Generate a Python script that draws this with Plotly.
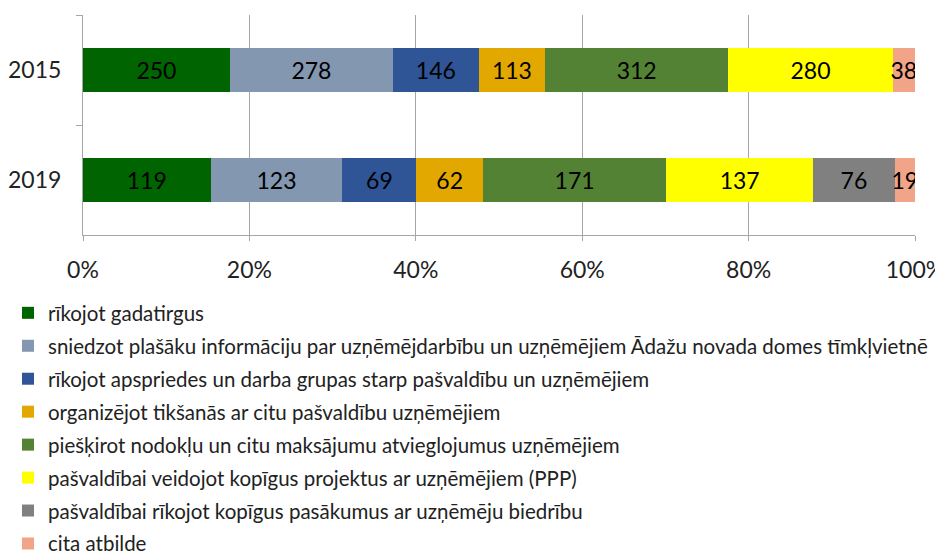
import plotly.graph_objects as go

years = ["2015", "2019"]
series_names = [
    "rīkojot gadatirgus",
    "sniedzot plašāku informāciju par uzņēmējdarbību un uzņēmējiem Ādažu novada domes tīmkļvietnē",
    "rīkojot apspriedes un darba grupas starp pašvaldību un uzņēmējiem",
    "organizējot tikšanās ar citu pašvaldību uzņēmējiem",
    "piešķirot nodokļu un citu maksājumu atvieglojumus uzņēmējiem",
    "pašvaldībai veidojot kopīgus projektus ar uzņēmējiem (PPP)",
    "pašvaldībai rīkojot kopīgus pasākumus ar uzņēmēju biedrību",
    "cita atbilde",
]
values_2015 = [250, 278, 146, 113, 312, 280, None, 38]
values_2019 = [119, 123, 69, 62, 171, 137, 76, 19]
colors = ["#006400", "#8497B0", "#2F5597", "#E3A800", "#548235", "#FFFF00", "#808080", "#F2A488"]

FONT = "Lato"
W, H = 935, 543  # page adds an 8px body margin
fig = go.Figure()
for i, name in enumerate(series_names):
    vals = [values_2015[i], values_2019[i]]
    fig.add_trace(go.Bar(
        y=years, x=vals, name=name, orientation="h",
        marker=dict(color=colors[i], line=dict(width=0)),
        text=[str(v) if v is not None else "" for v in vals],
        textposition="inside", insidetextanchor="middle",
        textangle=0, constraintext="none",
        insidetextfont=dict(color="black", size=23, family=FONT),
        legendgroup=f"g{i}",
        hoverinfo="x+name",
    ))

fig.update_layout(
    barmode="stack", barnorm="percent", bargap=0.6,
    width=W, height=H,
    margin=dict(l=75, r=28, t=7, b=316, autoexpand=False),
    paper_bgcolor="white", plot_bgcolor="white",
    font=dict(family=FONT, size=21, color="#222222"),
    legend=dict(orientation="v", xref="container", yref="container",
                x=0.0, xanchor="left", y=1 - 285 / H, yanchor="top",
                font=dict(size=20.5, family=FONT, color="#222222"),
                tracegroupgap=3.3, itemsizing="constant", traceorder="grouped",
                bgcolor="rgba(0,0,0,0)"),
    showlegend=True,
)
fig.update_xaxes(range=[0, 100], tickvals=[0, 20, 40, 60, 80, 100],
                 ticktext=["0%", "20%", "40%", "60%", "80%", "100%"],
                 showgrid=True, gridcolor="#A6A6A6", gridwidth=1,
                 showline=True, linecolor="#A6A6A6", ticks="outside", ticklen=5,
                 tickcolor="#A6A6A6", zeroline=False, ticklabelstandoff=9,
                 ticklabeloverflow="allow",
                 tickfont=dict(size=23, family=FONT, color="#222222"), fixedrange=True,
                 automargin=False)
fig.update_yaxes(categoryorder="array", categoryarray=years, autorange="reversed",
                 showline=True, linecolor="#A6A6A6", ticks="outside", ticklen=6,
                 tickcolor="#A6A6A6", tickson="boundaries", showgrid=False,
                 ticklabelstandoff=16, automargin=False,
                 tickfont=dict(size=23, family=FONT, color="#222222"), fixedrange=True)

fig.write_html("out.html")
